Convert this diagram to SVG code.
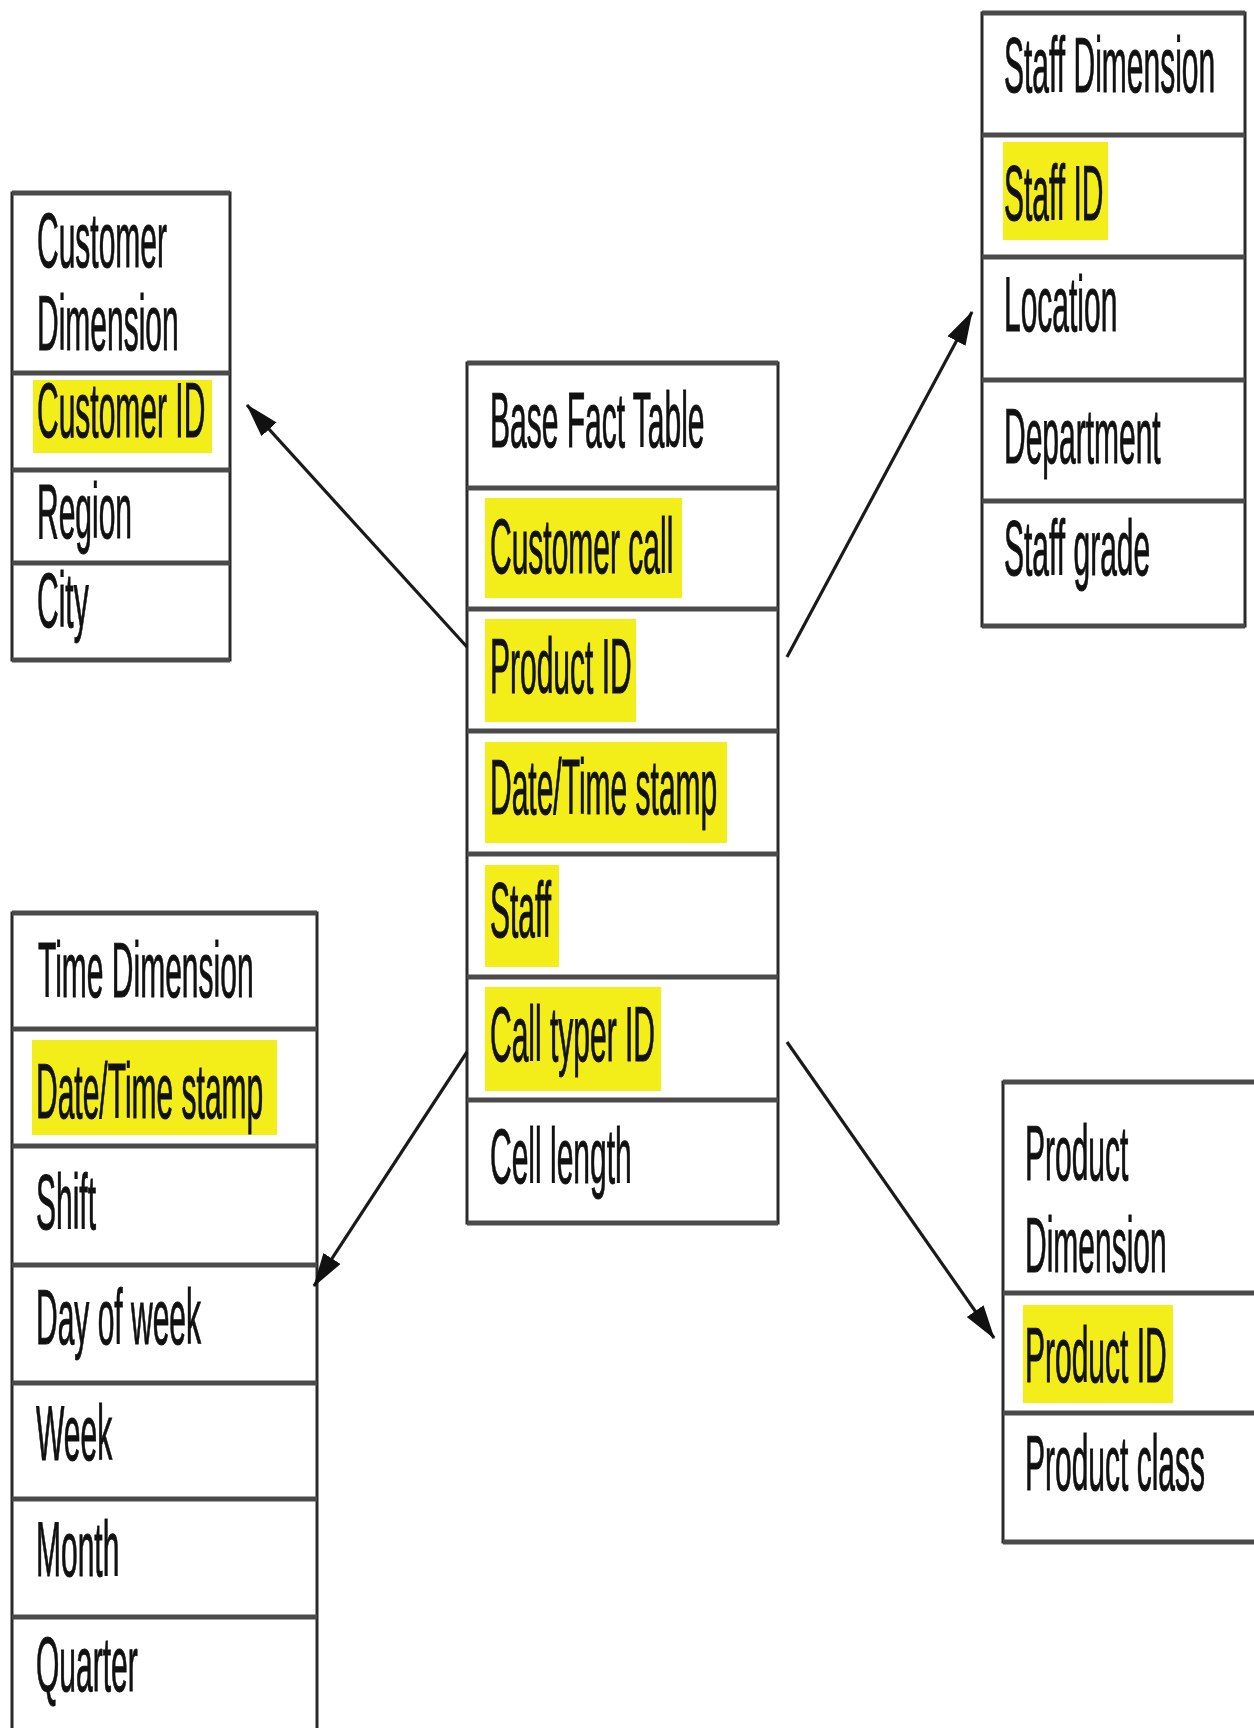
<svg xmlns="http://www.w3.org/2000/svg" width="1254" height="1728" viewBox="0 0 1254 1728">
<style>
.t{font-family:"Liberation Sans",Arial,sans-serif;font-size:30px;fill:#111;stroke:#111;stroke-width:0.4}
.box{fill:#fff;stroke:#2a2a2a;stroke-width:3}
.div{stroke:#4a4a4a;stroke-width:5}
.hl{fill:#f3ee1a}
.conn{stroke:#1a1a1a;stroke-width:3.2;fill:none}
</style>
<defs>
<marker id="arr" markerUnits="userSpaceOnUse" markerWidth="34" markerHeight="24" viewBox="0 0 30 18" refX="29" refY="9" orient="auto">
<path d="M0,0 L30,9 L0,18 z" fill="#111"/>
</marker>
</defs>
<rect width="1254" height="1728" fill="#fff"/>

<g id="customer-dimension">
<rect class="box" x="12" y="193" width="218" height="467"/>
<line class="div" x1="12" y1="193" x2="230" y2="193"/>
<line class="div" x1="12" y1="373" x2="230" y2="373"/>
<line class="div" x1="12" y1="470" x2="230" y2="470"/>
<line class="div" x1="12" y1="563" x2="230" y2="563"/>
<line class="div" x1="12" y1="660" x2="230" y2="660"/>
<rect class="hl" x="33" y="380" width="179" height="73"/>
<text class="t" transform="matrix(1 0 0 2.6 37 267)">Customer</text>
<text class="t" transform="matrix(1 0 0 2.6 37 350)">Dimension</text>
<text class="t" transform="matrix(1 0 0 2.6 37 437)">Customer ID</text>
<text class="t" transform="matrix(1 0 0 2.6 37 538)">Region</text>
<text class="t" transform="matrix(1 0 0 2.6 37 627)">City</text>
</g>

<g id="base-fact-table">
<rect class="box" x="467" y="363" width="311" height="860"/>
<line class="div" x1="467" y1="363" x2="778" y2="363"/>
<line class="div" x1="467" y1="488" x2="778" y2="488"/>
<line class="div" x1="467" y1="609" x2="778" y2="609"/>
<line class="div" x1="467" y1="731" x2="778" y2="731"/>
<line class="div" x1="467" y1="854" x2="778" y2="854"/>
<line class="div" x1="467" y1="977" x2="778" y2="977"/>
<line class="div" x1="467" y1="1100" x2="778" y2="1100"/>
<line class="div" x1="467" y1="1223" x2="778" y2="1223"/>
<rect class="hl" x="485" y="498" width="197" height="100"/>
<rect class="hl" x="485" y="619" width="151" height="103"/>
<rect class="hl" x="485" y="742" width="242" height="101"/>
<rect class="hl" x="485" y="865" width="74" height="102"/>
<rect class="hl" x="485" y="987" width="176" height="104"/>
<text class="t" transform="matrix(1 0 0 2.6 490 447)">Base Fact Table</text>
<text class="t" transform="matrix(1 0 0 2.6 490 573)">Customer call</text>
<text class="t" transform="matrix(1 0 0 2.6 490 693)">Product ID</text>
<text class="t" transform="matrix(1 0 0 2.6 490 814)">Date/Time stamp</text>
<text class="t" transform="matrix(1 0 0 2.6 490 937)">Staff</text>
<text class="t" transform="matrix(1 0 0 2.6 490 1061)">Call typer ID</text>
<text class="t" transform="matrix(1 0 0 2.6 490 1183)">Cell length</text>
</g>

<g id="staff-dimension">
<rect class="box" x="982" y="13" width="263" height="613"/>
<line class="div" x1="982" y1="13" x2="1245" y2="13"/>
<line class="div" x1="982" y1="135" x2="1245" y2="135"/>
<line class="div" x1="982" y1="257" x2="1245" y2="257"/>
<line class="div" x1="982" y1="380" x2="1245" y2="380"/>
<line class="div" x1="982" y1="501" x2="1245" y2="501"/>
<line class="div" x1="982" y1="626" x2="1245" y2="626"/>
<rect class="hl" x="1003" y="142" width="105" height="98"/>
<text class="t" transform="matrix(1 0 0 2.6 1004 92)">Staff Dimension</text>
<text class="t" transform="matrix(1 0 0 2.6 1004 220)">Staff ID</text>
<text class="t" transform="matrix(1 0 0 2.6 1004 331)">Location</text>
<text class="t" transform="matrix(1 0 0 2.6 1004 463)">Department</text>
<text class="t" transform="matrix(1 0 0 2.6 1004 575)">Staff grade</text>
</g>

<g id="time-dimension">
<rect class="box" x="12" y="913" width="305" height="830"/>
<line class="div" x1="12" y1="913" x2="317" y2="913"/>
<line class="div" x1="12" y1="1029" x2="317" y2="1029"/>
<line class="div" x1="12" y1="1146" x2="317" y2="1146"/>
<line class="div" x1="12" y1="1265" x2="317" y2="1265"/>
<line class="div" x1="12" y1="1383" x2="317" y2="1383"/>
<line class="div" x1="12" y1="1499" x2="317" y2="1499"/>
<line class="div" x1="12" y1="1617" x2="317" y2="1617"/>
<rect class="hl" x="32" y="1040" width="245" height="95"/>
<text class="t" transform="matrix(1 0 0 2.6 38 997)">Time Dimension</text>
<text class="t" transform="matrix(1 0 0 2.6 36 1118)">Date/Time stamp</text>
<text class="t" transform="matrix(1 0 0 2.6 36 1229)">Shift</text>
<text class="t" transform="matrix(1 0 0 2.6 36 1344)">Day of week</text>
<text class="t" transform="matrix(1 0 0 2.6 36 1460)">Week</text>
<text class="t" transform="matrix(1 0 0 2.6 36 1576)">Month</text>
<text class="t" transform="matrix(1 0 0 2.6 36 1691)">Quarter</text>
</g>

<g id="product-dimension">
<rect class="box" x="1003" y="1082" width="270" height="460"/>
<line class="div" x1="1003" y1="1082" x2="1254" y2="1082"/>
<line class="div" x1="1003" y1="1293" x2="1254" y2="1293"/>
<line class="div" x1="1003" y1="1413" x2="1254" y2="1413"/>
<line class="div" x1="1003" y1="1542" x2="1254" y2="1542"/>
<rect class="hl" x="1023" y="1305" width="150" height="98"/>
<text class="t" transform="matrix(1 0 0 2.6 1025 1180)">Product</text>
<text class="t" transform="matrix(1 0 0 2.6 1025 1272)">Dimension</text>
<text class="t" transform="matrix(1 0 0 2.6 1025 1382)">Product ID</text>
<text class="t" transform="matrix(1 0 0 2.6 1025 1490)">Product class</text>
</g>

<g id="connectors">
<line class="conn" x1="467" y1="647" x2="247" y2="405" marker-end="url(#arr)"/>
<line class="conn" x1="787" y1="657" x2="972" y2="312" marker-end="url(#arr)"/>
<line class="conn" x1="467" y1="1052" x2="314" y2="1286" marker-end="url(#arr)"/>
<line class="conn" x1="787" y1="1042" x2="994" y2="1338" marker-end="url(#arr)"/>
</g>
</svg>
